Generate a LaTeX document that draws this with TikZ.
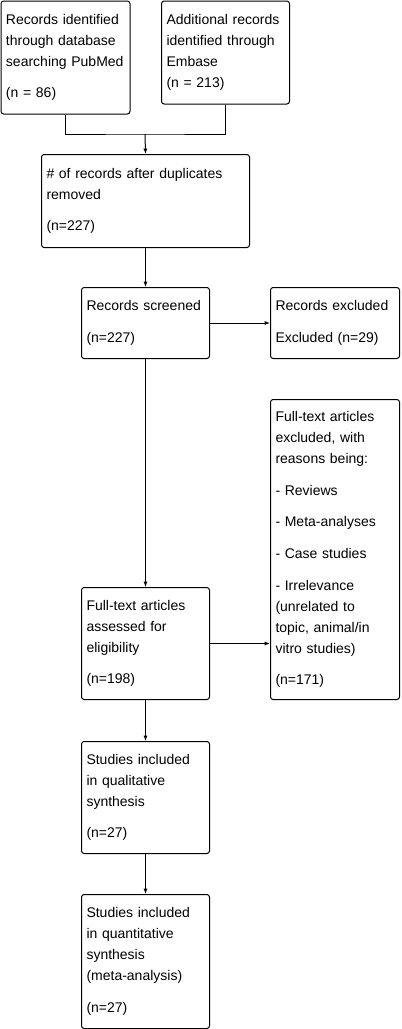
\documentclass[tikz,border=0pt]{standalone}
\usepackage{fontspec}
\setmainfont{Liberation Sans}
\usetikzlibrary{arrows.meta}

\begin{document}
\begin{tikzpicture}[x=0.75pt, y=-0.75pt, line width=0.75pt,
  every node/.style={font=\fontsize{10.5}{15.75}\selectfont},
  prisma/.style={draw, rounded corners=2pt, anchor=north west, align=left, inner xsep=3.75pt, inner ysep=0pt},
  arr/.style={-{Latex[length=4pt,width=3pt]}}]
  \useasboundingbox (0,0) rectangle (402,1029);
  % identification
  \node[prisma, text width=89.25pt, minimum height=84.75pt] (pubmed) at (0.5,0.5) {Records identified\\through database\\searching PubMed\\[8pt](n = 86)};
  \node[prisma, text width=88.5pt, minimum height=77.25pt] (embase) at (161,0.5) {Additional records\\identified through\\Embase\\(n = 213)};
  \node[prisma, text width=148.5pt, minimum height=69.75pt] (dedup) at (41,154) {\# of records after duplicates\\removed\\[8pt](n=227)};
  % screening
  \node[prisma, text width=88.5pt, minimum height=53.25pt] (screened) at (81,287) {Records screened\\[8pt](n=227)};
  \node[prisma, text width=89.25pt, minimum height=53.25pt] (excluded) at (270,287) {Records excluded\\[8pt]Excluded (n=29)};
  % eligibility
  \node[prisma, text width=89.25pt, minimum height=225pt] (reasons) at (270,399) {Full-text articles\\excluded, with\\reasons being:\\[8pt]- Reviews\\[8pt]- Meta-analyses\\[8pt]- Case studies\\[8pt]- Irrelevance\\(unrelated to\\topic, animal/in\\vitro studies)\\[8pt](n=171)};
  \node[prisma, text width=88.5pt, minimum height=84pt] (fulltext) at (81,587) {Full-text articles\\assessed for\\eligibility\\[8pt](n=198)};
  % included
  \node[prisma, text width=88.5pt, minimum height=84pt] (qual) at (81,741) {Studies included\\in qualitative\\synthesis\\[8pt](n=27)};
  \node[prisma, text width=88.5pt, minimum height=100.5pt] (quant) at (81,894) {Studies included\\in quantitative\\synthesis\\(meta-analysis)\\[8pt](n=27)};

  \coordinate (merge) at (145,134);
  \draw (pubmed.south) |- (merge) -| (embase.south);
  \draw[arr] (merge) -- (dedup.north);
  \draw[arr] (dedup.south) -- (screened.north);
  \draw[arr] (screened.east) -- (excluded.west);
  \draw[arr] (screened.south) -- (fulltext.north);
  \draw[arr] (fulltext.east) -- (fulltext.east -| reasons.west);
  \draw[arr] (fulltext.south) -- (qual.north);
  \draw[arr] (qual.south) -- (quant.north);
\end{tikzpicture}
\end{document}
